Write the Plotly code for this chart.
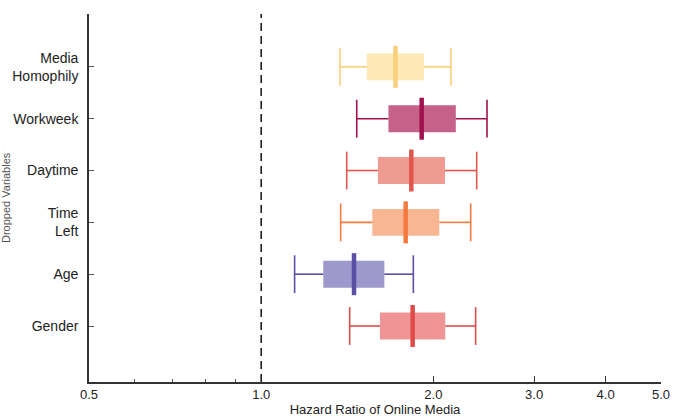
import math
import plotly.graph_objects as go

# ---- data (top to bottom) ----
categories = ["Media<br>Homophily", "Workweek", "Daytime", "Time<br>Left", "Age", "Gender"]
lower = [1.373, 1.469, 1.411, 1.377, 1.144, 1.428]
q1 = [1.530, 1.669, 1.600, 1.564, 1.284, 1.613]
median = [1.717, 1.908, 1.830, 1.789, 1.453, 1.840]
q3 = [1.926, 2.189, 2.096, 2.048, 1.642, 2.098]
upper = [2.147, 2.482, 2.381, 2.324, 1.845, 2.371]
fill_colors = ["#FDE8B6", "#C6618C", "#F09B92", "#F9B693", "#9D99CC", "#EF9595"]
line_colors = ["#FBD07A", "#A0124E", "#E0574C", "#F57A40", "#5950A6", "#DF4C48"]
x_ticks = [0.5, 1.0, 2.0, 3.0, 4.0, 5.0]
x_ticktext = ["0.5", "1.0", "2.0", "3.0", "4.0", "5.0"]
x_minor = [0.6, 0.7, 0.8, 0.9]
ref_value = 1.0

n = len(categories)
ypos = [n - 1 - i for i in range(n)]

fig = go.Figure()
for i in range(n):
    y = ypos[i]
    fig.add_trace(go.Bar(
        y=[y], x=[q3[i] - q1[i]], base=[q1[i]], orientation="h", width=0.52,
        marker=dict(color=fill_colors[i], line=dict(width=0)), showlegend=False,
        hoverinfo="skip"))
    fig.add_trace(go.Scatter(
        x=[lower[i], q1[i], None, q3[i], upper[i]], y=[y, y, None, y, y],
        mode="lines", line=dict(color=line_colors[i], width=1.6),
        showlegend=False, hoverinfo="skip"))
    fig.add_trace(go.Scatter(
        x=[lower[i], upper[i]], y=[y, y], mode="markers",
        marker=dict(symbol="line-ns", size=27, color=line_colors[i],
                    line=dict(color=line_colors[i], width=1.6)),
        showlegend=False, hoverinfo="skip"))
    fig.add_trace(go.Scatter(
        x=[median[i]], y=[y], mode="markers",
        marker=dict(symbol="line-ns", size=30, color=line_colors[i],
                    line=dict(color=line_colors[i], width=4.5)),
        showlegend=False, hoverinfo="skip"))

fig.add_shape(type="line", x0=ref_value, x1=ref_value, xref="x", y0=0, y1=1, yref="paper",
              line=dict(color="#222222", width=1.6, dash="8px,5px"), layer="above")

fig.update_layout(
    width=684, height=420,
    margin=dict(l=89, r=23, t=14, b=38, autoexpand=False),
    paper_bgcolor="white", plot_bgcolor="white",
    barmode="overlay",
    font=dict(family="Liberation Sans, Arial, sans-serif", size=13, color="#222222"),
    xaxis=dict(
        type="log", range=[math.log10(0.5), math.log10(5.0)], automargin=False,
        tickmode="array", tickvals=x_ticks, ticktext=x_ticktext,
        ticks="inside", ticklen=6, tickwidth=1.2, tickcolor="#333333",
        minor=dict(tickmode="array", tickvals=x_minor, ticks="inside", ticklen=3,
                   tickwidth=1, tickcolor="#555555"),
        showline=True, linecolor="#333333", linewidth=1.6,
        showgrid=False, zeroline=False, ticklabelstandoff=0,
        tickfont=dict(size=13, color="#222222"),
        title=dict(text="Hazard Ratio of Online Media", font=dict(size=13, color="#222222"), standoff=3),
    ),
    yaxis=dict(
        range=[-1.08, 6.02], tickmode="array", tickvals=ypos, ticktext=categories,
        ticks="inside", ticklen=5, tickwidth=1, tickcolor="#555555", automargin=False,
        showline=True, linecolor="#333333", linewidth=1.6,
        showgrid=False, zeroline=False, ticklabelstandoff=6,
        tickfont=dict(size=14, color="#222222"),
    ),
    annotations=[dict(text="Dropped Variables", textangle=-90, xref="paper", yref="paper",
                      x=(6 - 89) / 572, y=0.5, xanchor="center", yanchor="middle",
                      showarrow=False, font=dict(size=11, color="#555555"))],
)

fig.write_html("out.html")
